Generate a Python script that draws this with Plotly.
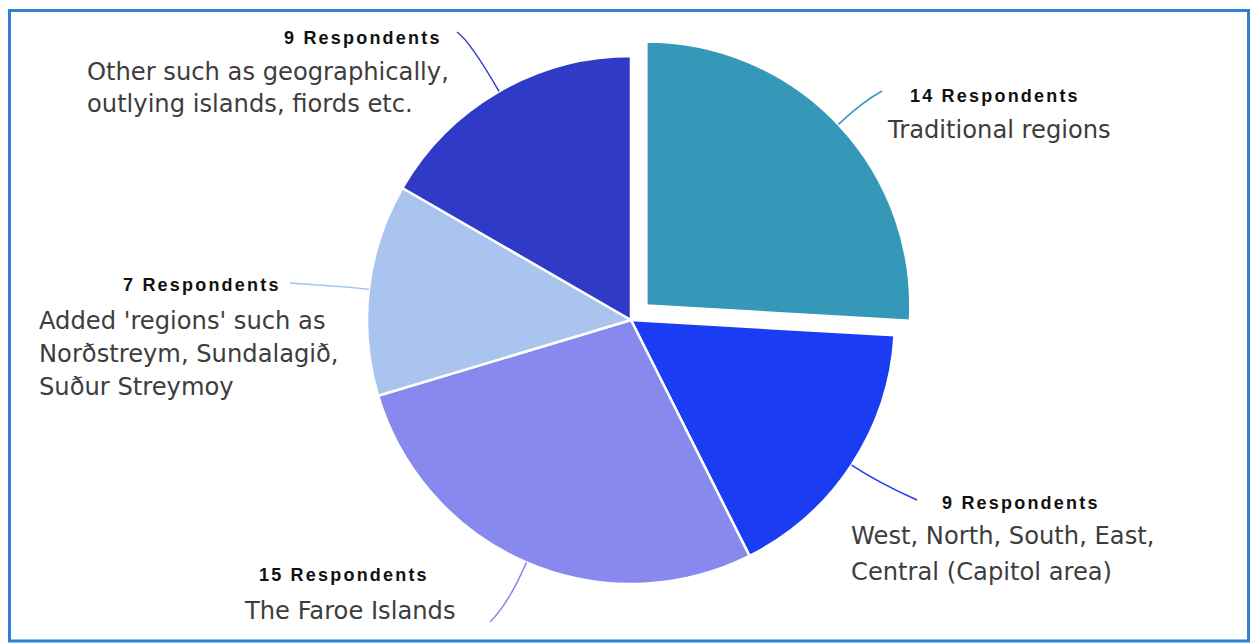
import math
import plotly.graph_objects as go

# Survey answers: how respondents divide the Faroe Islands into regions
categories = [
    "Traditional regions",
    "West, North, South, East, Central (Capitol area)",
    "The Faroe Islands",
    "Added 'regions' such as Norðstreym, Sundalagið, Suður Streymoy",
    "Other such as geographically, outlying islands, fiords etc.",
]
respondents = [14, 9, 15, 7, 9]
label_lines = [
    ["Traditional regions"],
    ["West, North, South, East,", "Central (Capitol area)"],
    ["The Faroe Islands"],
    ["Added 'regions' such as", "Norðstreym, Sundalagið,", "Suður Streymoy"],
    ["Other such as geographically,", "outlying islands, fiords etc."],
]
colors = ["#3598b8", "#1a3cf2", "#8789ee", "#a9c5ef", "#2f3ac6"]
pull = [0.08, 0, 0, 0, 0]

W, H = 1252, 644
CX, CY, R = 631.0, 320.0, 264.0  # pie centre and radius in pixels

# label placement (pixels): header centre, first text line left edge / centre, line step
header_pos = [(995, 96), (1021, 503), (344, 575), (202, 285), (363, 38)]
text_pos = [(885, 130, 0), (849, 536, 36), (242, 611, 0), (37, 321, 33), (85, 72, 32)]
leader_end = [(882, 91), (917, 500), (490, 622), (290, 283), (457, 32)]
leader_bend = [32, 32, 45, 20, 58]


def fx(x):
    return x / W


def fy(y):
    return 1 - y / H


half = R * (1 + max(pull))
fig = go.Figure(
    go.Pie(
        labels=categories,
        values=respondents,
        sort=False,
        direction="clockwise",
        rotation=0,
        pull=pull,
        marker=dict(colors=colors, line=dict(color="white", width=2.5)),
        textinfo="none",
        hoverinfo="label+value",
        showlegend=False,
        domain=dict(x=[fx(CX - half), fx(CX + half)], y=[fy(CY + half), fy(CY - half)]),
    )
)

annotations = []
shapes = []
total = sum(respondents)
start = 0.0
for i, v in enumerate(respondents):
    mid = math.radians((start + v / 2) / total * 360)
    start += v
    dx, dy = math.sin(mid), -math.cos(mid)
    ox, oy = CX + pull[i] * R * dx, CY + pull[i] * R * dy
    ax, ay = ox + R * dx, oy + R * dy
    bx, by = ox + (R + leader_bend[i]) * dx, oy + (R + leader_bend[i]) * dy
    ex, ey = leader_end[i]
    shapes.append(dict(
        type="path", xref="paper", yref="paper",
        path=f"M {fx(ax)},{fy(ay)} Q {fx(bx)},{fy(by)} {fx(ex)},{fy(ey)}",
        line=dict(color=colors[i], width=1.5),
    ))
    hx, hy = header_pos[i]
    annotations.append(dict(
        x=fx(hx), y=fy(hy), xref="paper", yref="paper", xanchor="center", yanchor="middle",
        showarrow=False,
        text=f"<span style='letter-spacing:2.2px'>{v} Respondents</span>",
        font=dict(family="Liberation Sans, Arial", size=18, color="#111111", weight="bold"),
    ))
    tx, ty, step = text_pos[i]
    for j, line in enumerate(label_lines[i]):
        annotations.append(dict(
            x=fx(tx), y=fy(ty + j * step), xref="paper", yref="paper",
            xanchor="left", yanchor="middle", showarrow=False, text=line,
            font=dict(family="DejaVu Sans", size=24.2, color="#3d3d3d"),
        ))

# blue frame around the chart
shapes.append(dict(
    type="rect", xref="paper", yref="paper",
    x0=fx(9.5), x1=fx(1248.5), y0=fy(641), y1=fy(10.5),
    line=dict(color="#2f80cf", width=3), fillcolor="rgba(0,0,0,0)",
))

fig.update_layout(
    width=W, height=H,
    margin=dict(l=0, r=0, t=0, b=0),
    paper_bgcolor="white", plot_bgcolor="white",
    shapes=shapes, annotations=annotations,
)
fig.write_html("out.html")
